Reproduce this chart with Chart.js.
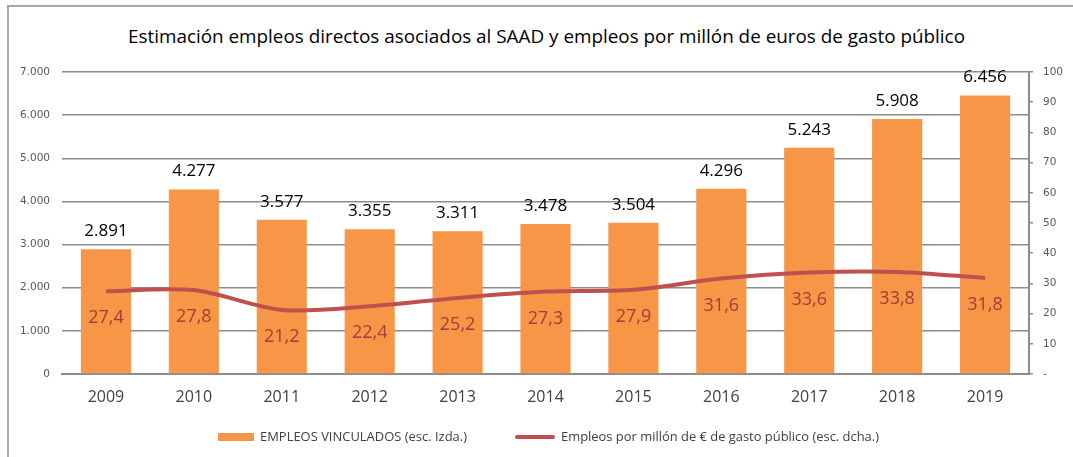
<!DOCTYPE html>
<html>
<head>
<meta charset="utf-8">
<script src="https://cdn.jsdelivr.net/npm/chart.js@4.4.1/dist/chart.umd.min.js"></script>
<style>
  html, body { margin: 0; padding: 0; background: #fff; }
  #wrap { position: relative; width: 1073px; height: 457px; overflow: hidden; }
  #frame { position: absolute; left: 7px; top: 5px; width: 1200px; height: 600px; border-left: 2px solid #a6a6a6; border-top: 2px solid #a6a6a6; }
  #title { position: absolute; top: 24px; left: 0; white-space: nowrap; transform-origin: 0 0;
           font-family: "Open Sans", sans-serif; font-size: 19px; line-height: 24px; color: #000; }
  canvas { position: absolute; left: 0; top: 0; }
  .leg { position: absolute; top: 428px; font-family: "Open Sans", sans-serif; font-size: 12.5px; line-height: 18px; color: #404040; white-space: nowrap; transform-origin: 0 0; }
  .sw { position: absolute; }
</style>
</head>
<body>
<div id="wrap">
  <div id="frame"></div>
  <div id="title">Estimación empleos directos asociados al SAAD y empleos por millón de euros de gasto público</div>
  <canvas id="c" width="1073" height="457"></canvas>
  <div class="sw" style="left:218px;top:433px;width:36px;height:8px;background:#F79646"></div>
  <div class="leg" id="leg1">EMPLEOS VINCULADOS (esc. Izda.)</div>
  <div class="sw" style="left:515px;top:435px;width:40px;height:4px;background:#C0504D;border-radius:2px"></div>
  <div class="leg" id="leg2">Empleos por millón de € de gasto público (esc. dcha.)</div>
</div>
<script>
const categories = ["2009","2010","2011","2012","2013","2014","2015","2016","2017","2018","2019"];
const empleosVinculados = [2891, 4277, 3577, 3355, 3311, 3478, 3504, 4296, 5243, 5908, 6456];
const empleosPorMillon = [27.4, 27.8, 21.2, 22.4, 25.2, 27.3, 27.9, 31.6, 33.6, 33.8, 31.8];
const leftTicks = [0, 1000, 2000, 3000, 4000, 5000, 6000, 7000];
const rightTicks = [0, 10, 20, 30, 40, 50, 60, 70, 80, 90, 100];

function fmtThousands(v) {
  const s = String(Math.round(v));
  return s.replace(/\B(?=(\d{3})+(?!\d))/g, ".");
}
function fmtDec(v) { return v.toFixed(1).replace(".", ","); }

// fit text elements horizontally into target spans
function fitText(id, left, width) {
  const el = document.getElementById(id);
  el.style.transform = "none";
  const w = el.getBoundingClientRect().width;
  el.style.left = left + "px";
  el.style.transform = "scaleX(" + (width / w) + ")";
}
function fitAll() {
  fitText("title", 128, 837);
  fitText("leg1", 260, 207);
  fitText("leg2", 561, 318);
}
fitAll();
if (document.fonts && document.fonts.ready) document.fonts.ready.then(fitAll);

const labelPlugin = {
  id: "valueLabels",
  afterDatasetsDraw(chart) {
    const ctx = chart.ctx;
    ctx.save();
    ctx.textAlign = "center";
    ctx.textBaseline = "middle";
    const barMeta = chart.getDatasetMeta(1);
    ctx.font = "17px 'Open Sans'";
    ctx.fillStyle = "#000000";
    barMeta.data.forEach((el, i) => {
      ctx.fillText(fmtThousands(empleosVinculados[i]), el.x, el.y - 18);
    });
    const lineMeta = chart.getDatasetMeta(0);
    ctx.font = "18px 'Open Sans'";
    ctx.fillStyle = "#A03E3B";
    lineMeta.data.forEach((el, i) => {
      ctx.fillText(fmtDec(empleosPorMillon[i]), el.x, el.y + 27);
    });
    ctx.restore();
  }
};

new Chart(document.getElementById("c"), {
  data: {
    labels: categories,
    datasets: [
      {
        type: "line",
        label: "Empleos por millón de € de gasto público (esc. dcha.)",
        data: empleosPorMillon,
        yAxisID: "y1",
        borderColor: "#C0504D",
        backgroundColor: "#C0504D",
        borderWidth: 4,
        pointRadius: 0,
        tension: 0.3,
        order: 0
      },
      {
        type: "bar",
        label: "EMPLEOS VINCULADOS (esc. Izda.)",
        data: empleosVinculados,
        yAxisID: "y",
        backgroundColor: "#F79646",
        categoryPercentage: 1,
        barPercentage: 0.57,
        order: 1
      }
    ]
  },
  options: {
    responsive: false,
    animation: false,
    layout: { padding: { top: 72, bottom: 43, left: 0, right: 0 } },
    plugins: { legend: { display: false }, title: { display: false }, tooltip: { enabled: false } },
    scales: {
      x: {
        grid: { display: false, drawTicks: false },
        border: { display: true, color: "#8c8c8c", width: 2 },
        ticks: { padding: 14, color: "#404040", font: { family: "Open Sans", size: 16 } },
        afterFit(s) { s.height = 40; }
      },
      y: {
        position: "left",
        min: 0, max: 7000,
        afterBuildTicks(s) { s.ticks = leftTicks.map(v => ({ value: v })); },
        grid: { color: "#8c8c8c", lineWidth: 1.5, drawTicks: false },
        border: { display: false },
        ticks: { padding: 12, color: "#595959", font: { family: "DejaVu Sans", size: 10.5 },
                 callback: v => fmtThousands(v) },
        afterFit(s) { s.width = 62; }
      },
      y1: {
        position: "right",
        min: 0, max: 100,
        afterBuildTicks(s) { s.ticks = rightTicks.map(v => ({ value: v })); },
        grid: { drawOnChartArea: false, color: "#8c8c8c", tickLength: 4, lineWidth: 1.5 },
        border: { display: true, color: "#8c8c8c", width: 2 },
        ticks: { padding: 10, color: "#595959", font: { family: "DejaVu Sans", size: 10.5 },
                 callback: v => v === 0 ? "-" : String(v) },
        afterFit(s) { s.width = 44; }
      }
    }
  },
  plugins: [labelPlugin]
});
</script>
</body>
</html>
